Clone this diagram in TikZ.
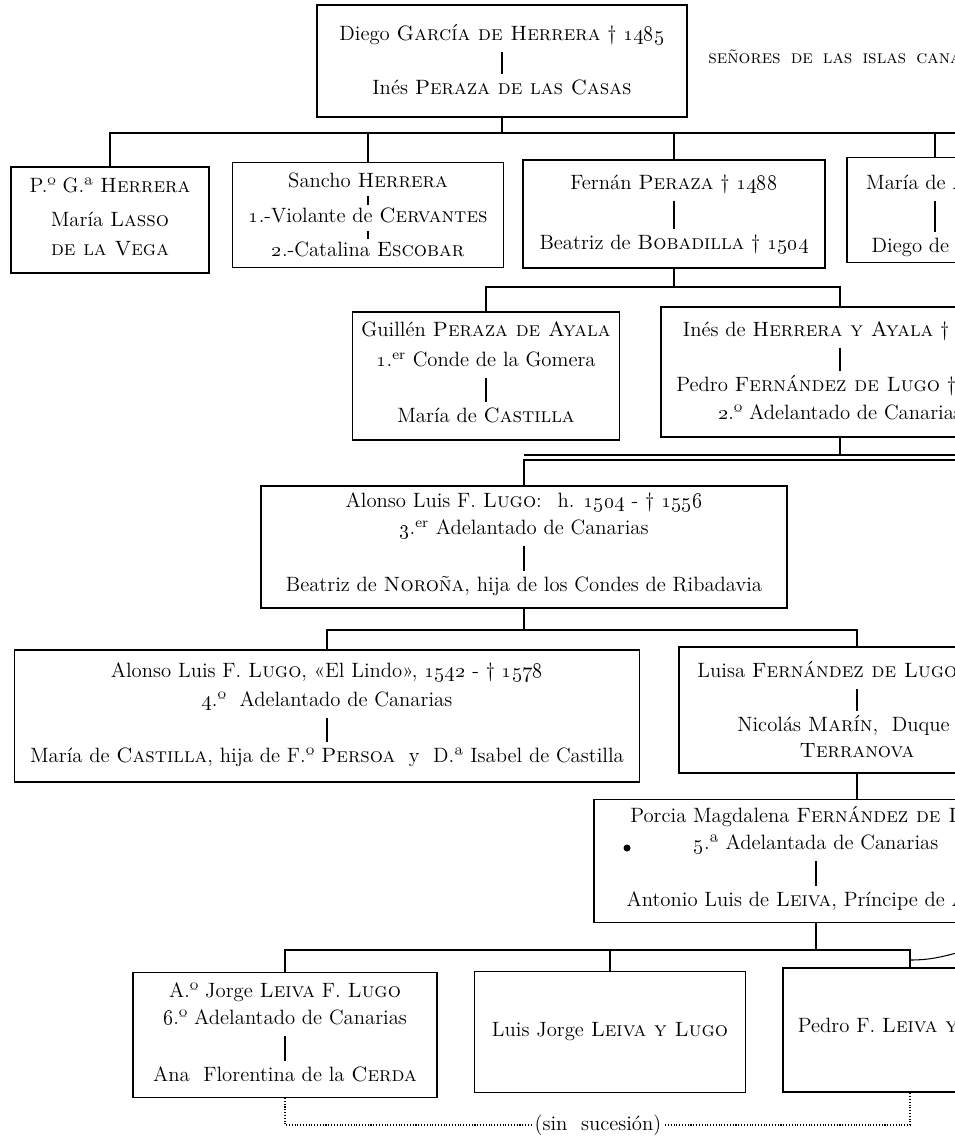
\documentclass[tikz,border=0pt]{standalone}
\newcommand\famfont{\fontsize{11.8}{14}\selectfont}
\tikzset{
  famline/.style={line width=0.6pt},
  fambox/.style={draw, line width=0.6pt, inner sep=0pt},
  boxwh/.style 2 args={minimum width=#1*0.02cm, minimum height=#2*0.02cm},
  famtext/.style={inner sep=0pt, font=\famfont, text height=1.5ex, text depth=.25ex},
  famwed/.style={line width=0.7pt, shorten <=5pt, shorten >=5pt},
  famtick/.style={line width=0.6pt, shorten <=3.5pt, shorten >=3.5pt},
  famdots/.style={line width=0.6pt, densely dotted},
}
\begin{document}
\begin{tikzpicture}[x=0.02cm,y=-0.02cm]
\useasboundingbox (0,0) rectangle (955,1138);
\clip (0,0) rectangle (955,1138);
% Diego Garcia de Herrera
\node[fambox,boxwh={370}{112}] (diego) at (502,61) {};
\node[famtext] (diegoa) at (502,36) {Diego \textsc{García de Herrera} † \oldstylenums{1485}};
\node[famtext] (diegob) at (502,90) {Inés \textsc{Peraza de las Casas}};
\draw[famwed] (diegoa) -- (diegob);
\node[anchor=west,inner sep=0pt,font=\fontsize{10.6}{13}\selectfont] (senores) at (708,57)
  {\textsc{señores\, de\, las\, islas\, cana}};
% hijos de Diego
\node[fambox,boxwh={198}{106}] (pgh) at (110,220) {};
\node[famtext] (pgha) at (110,188) {P.º G.ª \textsc{Herrera}};
\node[famtext] (pghb) at (110,222) {María \textsc{Lasso}};
\node[famtext] (pghc) at (110,251) {\textsc{de la Vega}};
\node[fambox,boxwh={271}{105}] (sancho) at (368,215) {};
\node[famtext] (sanchoa) at (368,183) {Sancho \textsc{Herrera}};
\node[famtext] (sanchob) at (368,218) {\oldstylenums{1}.-Violante de \textsc{Cervantes}};
\node[famtext] (sanchoc) at (368,252) {\oldstylenums{2}.-Catalina \textsc{Escobar}};
\draw[famtick] (sanchoa) -- (sanchob);
\draw[famtick] (sanchob) -- (sanchoc);
\node[fambox,boxwh={302}{108}] (fernan) at (674,214) {};
\node[famtext] (fernana) at (674,185) {Fernán \textsc{Peraza} † \oldstylenums{1488}};
\node[famtext] (fernanb) at (674,245) {Beatriz de \textsc{Bobadilla} † \oldstylenums{1504}};
\draw[famwed] (fernana) -- (fernanb);
\node[fambox,boxwh={176}{105}] (mariaa) at (935,210) {};
\node[famtext] (mariaaa) at (935,185) {María de A\phantom{yala}};
\node[famtext] (mariaab) at (935,248) {Diego de S\phantom{ilva}};
\draw[famwed] (mariaaa) -- (mariaab);
\coordinate (bus1) at (960,133);
\draw[famline] (diego.south) -- (diego.south |- bus1);
\draw[famline] (pgh.north) -- (pgh.north |- bus1) -- (bus1);
\draw[famline] (sancho.north) -- (sancho.north |- bus1);
\draw[famline] (fernan.north) -- (fernan.north |- bus1);
\draw[famline] (mariaa.north) -- (mariaa.north |- bus1);
% hijos de Fernan Peraza
\node[fambox,boxwh={267}{128}] (guillen) at (486,376) {};
\node[famtext] (guillena) at (486,332) {Guillén \textsc{Peraza de Ayala}};
\node[famtext] (guillenb) at (486,362) {\oldstylenums{1}.\textsuperscript{er} Conde de la Gomera};
\node[famtext] (guillenc) at (486,418) {María de \textsc{Castilla}};
\draw[famwed] (guillenb) -- (guillenc);
\node[fambox,boxwh={358}{130}] (inesh) at (840,372) {};
\node[famtext] (inesha) at (840,332) {Inés de \textsc{Herrera y Ayala} † \oldstylenums{15}\phantom{00}};
\node[famtext] (ineshb) at (840,387) {Pedro \textsc{Fernández de Lugo} † \oldstylenums{15}\phantom{25}};
\node[famtext] (ineshc) at (840,415) {\oldstylenums{2}.º Adelantado de Canarias};
\draw[famwed] (inesha) -- (ineshb);
\coordinate (bus2) at (0,287);
\draw[famline] (fernan.south) -- (fernan.south |- bus2);
\draw[famline] (guillen.north) -- (guillen.north |- bus2) -- (inesh.north |- bus2) -- (inesh.north);
% Alonso Luis F. Lugo
\node[fambox,boxwh={526}{122}] (alonso) at (524,547) {};
\node[famtext] (alonsoa) at (524,503) {Alonso Luis F. \textsc{Lugo}: \ h. \oldstylenums{1504} - † \oldstylenums{1556}};
\node[famtext] (alonsob) at (524,530) {\oldstylenums{3}.\textsuperscript{er} Adelantado de Canarias};
\node[famtext] (alonsoc) at (524,587) {Beatriz de \textsc{Noroña}, hija de los Condes de Ribadavia};
\draw[famwed] (alonsob) -- (alonsoc);
\coordinate (bus3a) at (960,455);
\coordinate (bus3b) at (960,460);
\draw[famline] (inesh.south) -- (inesh.south |- bus3a);
\draw[famline] (alonso.north |- bus3a) -- (bus3a);
\draw[famline] (alonso.north) -- (alonso.north |- bus3b) -- (bus3b);
% hijos de Alonso
\node[fambox,boxwh={625}{132}] (lindo) at (327,716) {};
\node[famtext] (lindoa) at (327,673) {Alonso Luis F. \textsc{Lugo}, «El Lindo», \oldstylenums{1542} - † \oldstylenums{1578}};
\node[famtext] (lindob) at (327,702) {\oldstylenums{4}.º \ Adelantado de Canarias};
\node[famtext] (lindoc) at (327,758) {María de \textsc{Castilla}, hija de F.º \textsc{Persoa} \ y \ D.ª Isabel de Castilla};
\draw[famwed] (lindob) -- (lindoc);
\node[fambox,boxwh={356}{126}] (luisa) at (857,710) {};
\node[famtext] (luisaa) at (857,673) {Luisa \textsc{Fernández de Lugo} †\textsuperscript{a.}\phantom{000}};
\node[famtext] (luisab) at (857,727) {Nicolás \textsc{Marín}, \ Duque de};
\node[famtext] (luisac) at (857,753) {\textsc{Terranova}};
\draw[famwed] (luisaa) -- (luisab);
\coordinate (bus4) at (0,630);
\draw[famline] (alonso.south) -- (alonso.south |- bus4);
\draw[famline] (lindo.north) -- (lindo.north |- bus4) -- (luisa.north |- bus4) -- (luisa.north);
% Porcia Magdalena
\node[fambox,boxwh={444}{123}] (porcia) at (816,861) {};
\node[famtext] (porciaa) at (816,818) {Porcia Magdalena \textsc{Fernández de Lugo}};
\node[famtext] (porciab) at (816,845) {\oldstylenums{5}.ª Adelantada de Canarias};
\node[famtext] (porciac) at (816,902) {Antonio Luis de \textsc{Leiva}, Príncipe de A\phantom{scoli}};
\draw[famwed] (porciab) -- (porciac);
\fill (627,848) circle (0.07cm);
\draw[famline] (luisa.south) -- (luisa.south |- porcia.north);
% hijos de Porcia
\node[fambox,boxwh={304}{125}] (jorge) at (285,1035) {};
\node[famtext] (jorgea) at (285,993) {A.º Jorge \textsc{Leiva} F. \textsc{Lugo}};
\node[famtext] (jorgeb) at (285,1020) {\oldstylenums{6}.º Adelantado de Canarias};
\node[famtext] (jorgec) at (285,1077) {Ana \ Florentina de la \textsc{Cerda}};
\draw[famwed] (jorgeb) -- (jorgec);
\node[fambox,boxwh={271}{121}] (luisj) at (610,1032) {};
\node[famtext] (luisja) at (610,1032) {Luis Jorge \textsc{Leiva y Lugo}};
\node[fambox,boxwh={254}{124}] (pedro) at (910,1030) {};
\node[famtext] (pedroa) at (908,1028) {Pedro F. \textsc{Leiva y}\phantom{ \textsc{Lugo}}};
\coordinate (bus5) at (0,950);
\coordinate (bus5r) at (960,952);
\draw[famline] (porcia.south) -- (porcia.south |- bus5);
\draw[famline] (jorge.north) -- (jorge.north |- bus5) -- (pedro.north |- bus5) -- (pedro.north);
\draw[famline] (luisj.north) -- (luisj.north |- bus5);
\draw[famline] (pedro.north |- bus5) ++(0,10) coordinate (bus5t) to[out=0,in=195] (bus5r);
% sin sucesion
\node[inner sep=2pt,font=\famfont] (sinsuc) at (598,1125) {(sin \ sucesión)};
\draw[famdots] (jorge.south) -- (jorge.south |- sinsuc) -- (sinsuc.west);
\draw[famdots] (sinsuc.east) -- (sinsuc.east -| pedro.south) -- (pedro.south);
\end{tikzpicture}
\end{document}
